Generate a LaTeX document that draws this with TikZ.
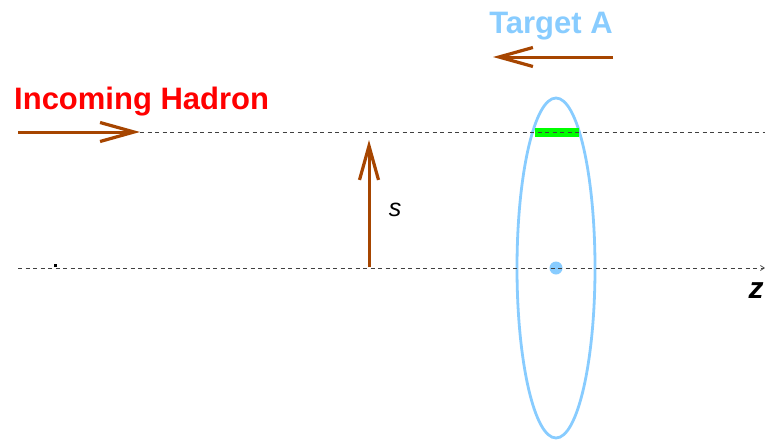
\documentclass[tikz,border=0pt]{standalone}
\usepackage{fontspec}
\setmainfont{Liberation Sans}
\usepackage{tikz}
\usetikzlibrary{arrows.meta,positioning}
\definecolor{brownarr}{HTML}{A64500}
\definecolor{targetblue}{HTML}{88CCFF}
\definecolor{hadronred}{HTML}{FF0000}
\definecolor{stripgreen}{HTML}{00FF00}
\tikzset{
  bigarrow/.style={brownarr,line width=3pt,-{Straight Barb[length=34pt,width=19pt,line width=3.2pt]}},
  axisline/.style={black!75,line width=0.7pt,dash pattern=on 4pt off 3.5pt},
  biglabel/.style={font=\fontsize{31}{33}\selectfont\bfseries,inner sep=0pt}
}

\begin{document}
\begin{tikzpicture}[x=1pt,y=-1pt]
  \useasboundingbox (0,0) rectangle (765,439);
  % points
  \coordinate (hadronstart) at (18,132);
  \coordinate (hadrontip) at (140,132);
  \coordinate (topend) at (765,132);
  \coordinate (axisstart) at (18,268);
  \coordinate (axisend) at (765,268);
  \coordinate (targetstart) at (613,57);
  \coordinate (targettip) at (493,57);
  \coordinate (sbase) at (369,267);
  \coordinate (stip) at (369,140);
  \coordinate (nucleus) at (556,268);
  % target
  \draw[targetblue,line width=2.8pt] (nucleus) ellipse (39 and 170);
  \fill[stripgreen] (535,128) rectangle (579,137);
  \fill[targetblue] (nucleus) circle (6.5);
  % lines
  \draw[axisline] (hadrontip) -- (topend);
  \draw[axisline,-{Straight Barb[length=4pt,width=5pt,line width=0.7pt]}] (axisstart) -- (axisend);
  \fill (54,264) rectangle (57,267);
  % arrows
  \draw[bigarrow] (hadronstart) -- (hadrontip);
  \draw[bigarrow] (targetstart) -- (targettip);
  \draw[bigarrow] (sbase) -- (stip);
  % labels
  \node[biglabel,hadronred,anchor=base west] (hadron) at (14,109) {Incoming Hadron};
  \node[biglabel,targetblue,anchor=base] (target) at (551,33) {Target A};
  \node[font=\fontsize{25}{27}\selectfont\itshape] (slabel) at (395,210) {s};
  \node[font=\fontsize{30}{32}\selectfont\bfseries\itshape] (zlabel) at (756,291) {z};
\end{tikzpicture}
\end{document}
